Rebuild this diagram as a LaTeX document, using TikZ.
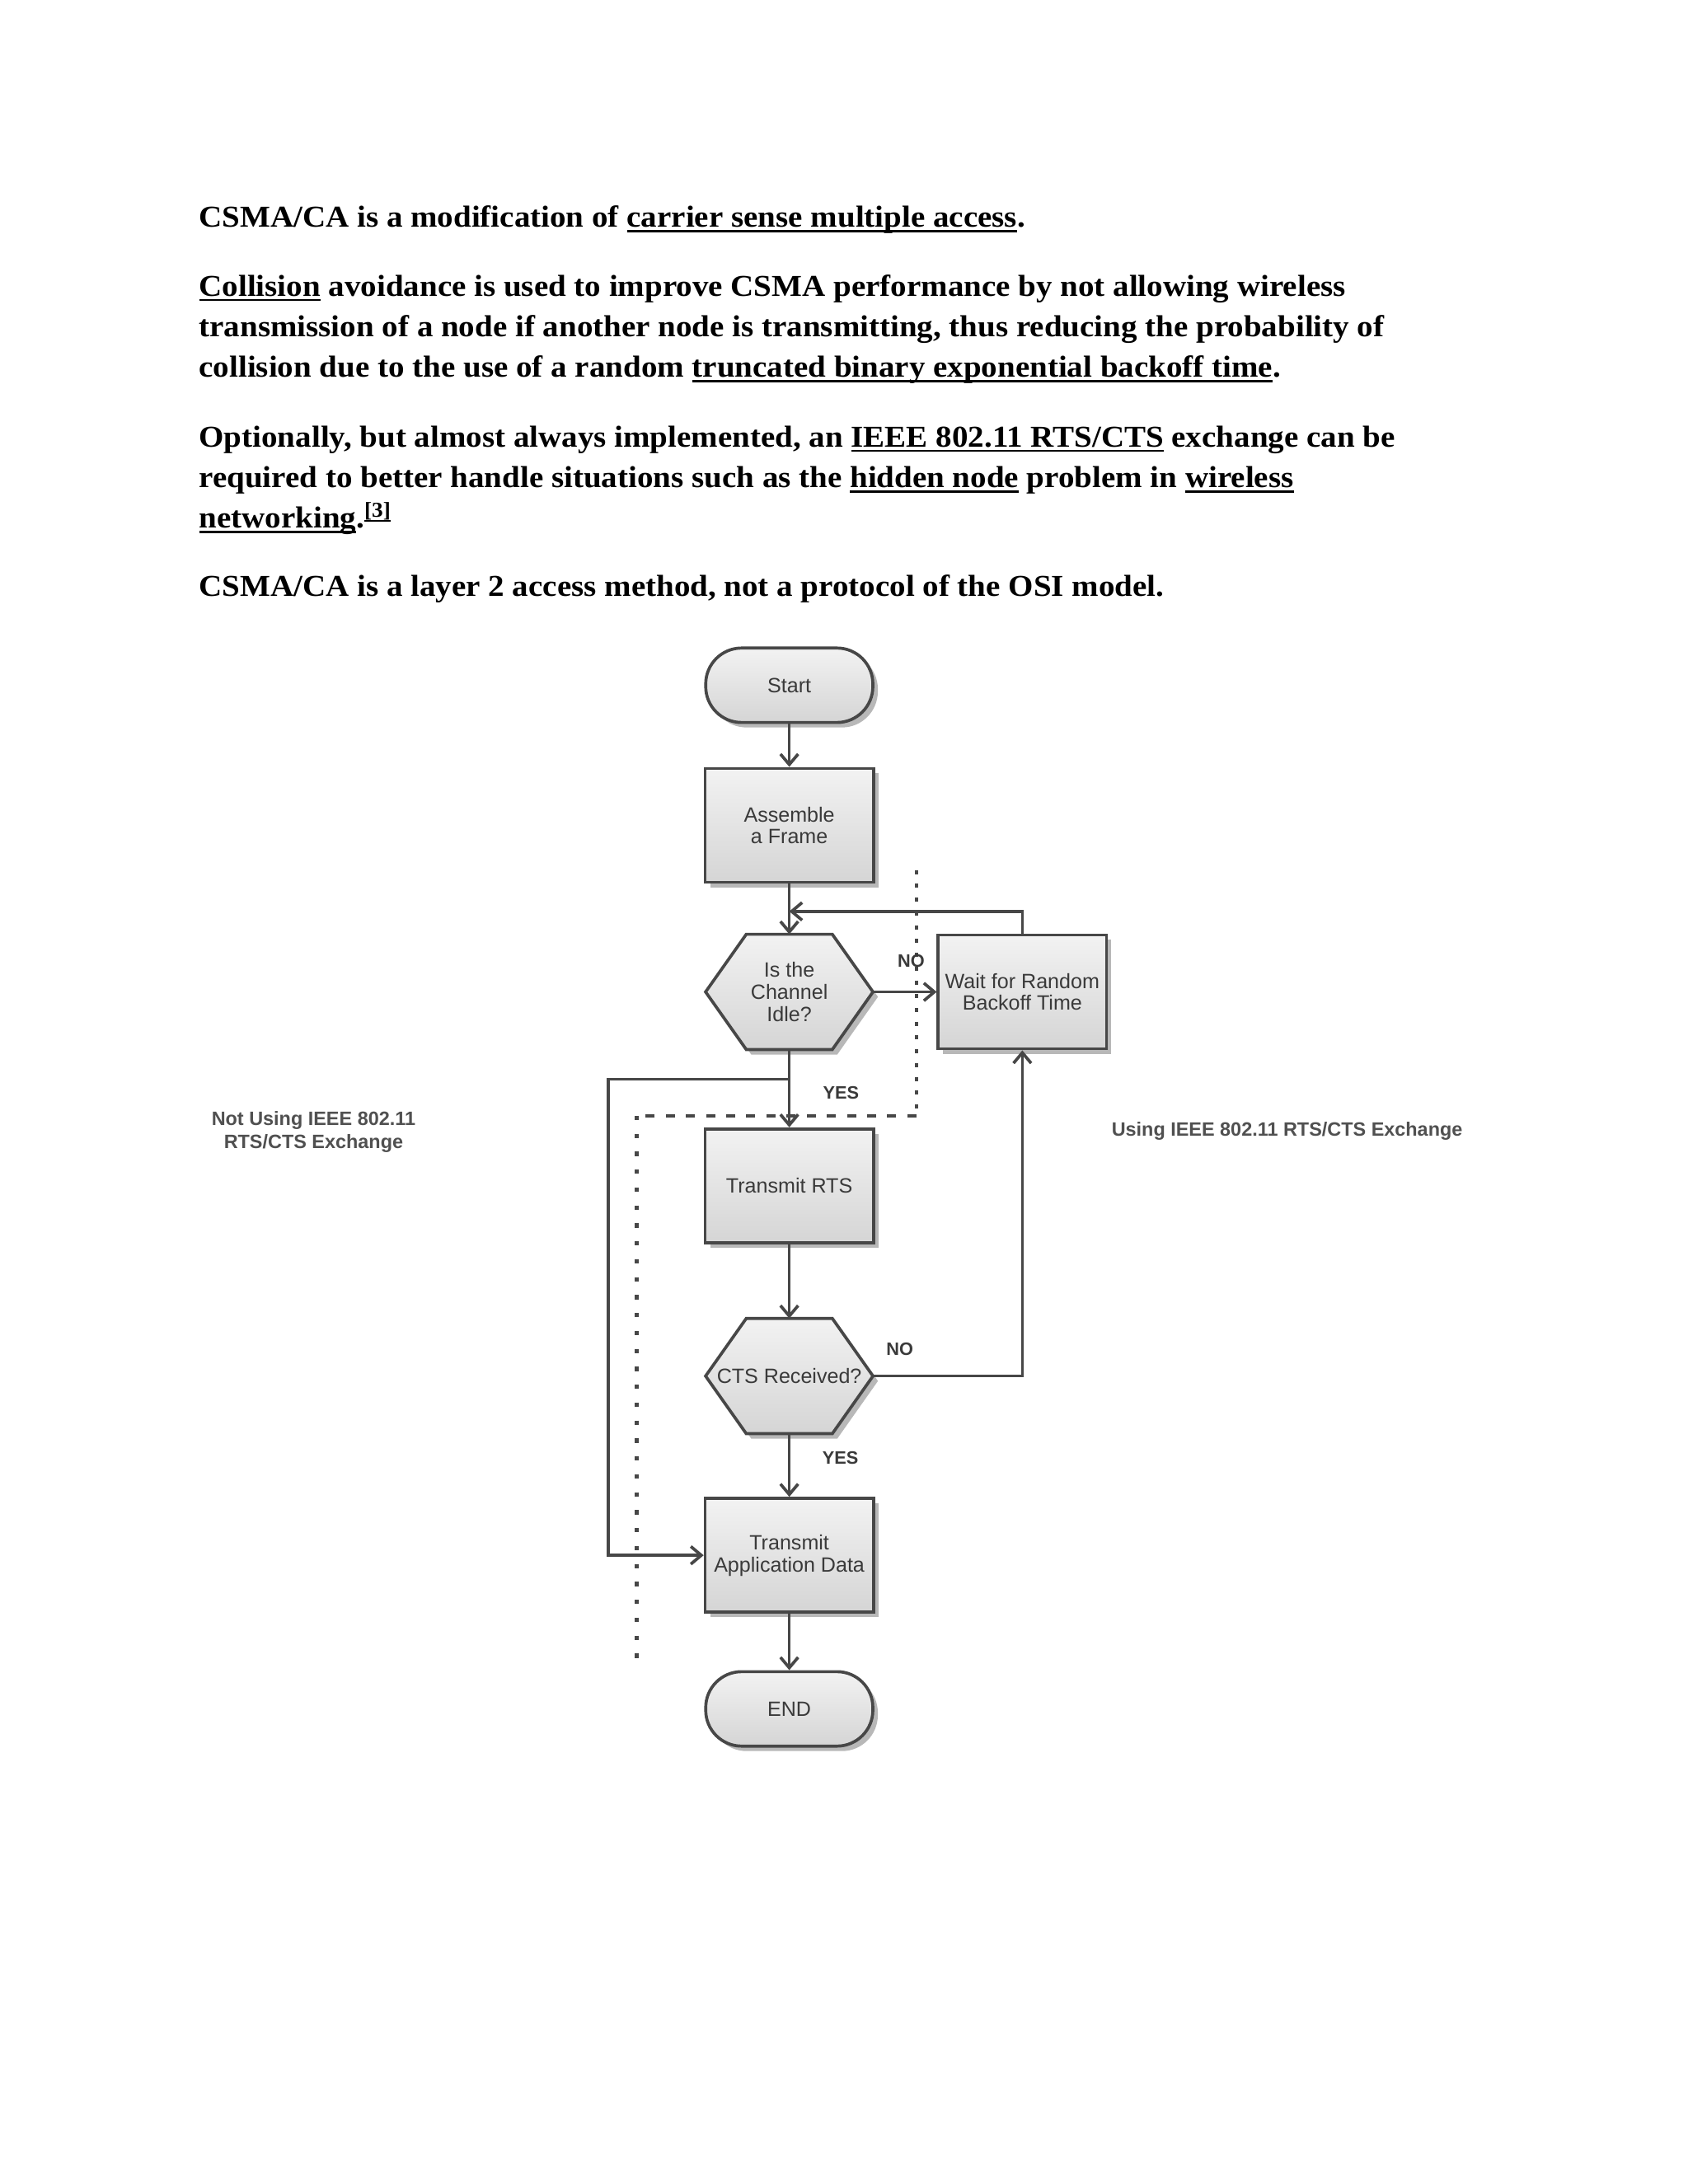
\documentclass[tikz,border=0pt]{standalone}
\usepackage{fontspec}
\setmainfont{Liberation Serif}[FakeStretch=1.06]
\newfontfamily\chartfont{Liberation Sans}
\usetikzlibrary{arrows.meta}
\usetikzlibrary{positioning}
\usetikzlibrary{shadows}
\definecolor{edge}{HTML}{474747}
\definecolor{ink}{HTML}{3A3A3A}
\definecolor{side}{HTML}{505050}
\newsavebox\linkbox
\newcommand{\wlink}[1]{\sbox\linkbox{#1}\rlap{\rule[-1.9pt]{\wd\linkbox}{0.8pt}}\usebox\linkbox}
\pgfdeclarelayer{background}
\pgfsetlayers{background,main}
\tikzstyle{every node}+=[inner sep=0pt]
\tikzstyle{para} = [anchor=base west, align=left, font=\fontsize{11pt}{14.7pt}\selectfont\bfseries]
\tikzstyle{boxfill} = [draw=edge, line width=1.1pt, top color=gray!10, bottom color=gray!33, drop shadow={shadow xshift=1.8pt, shadow yshift=-1.8pt, fill=black, opacity=0.28}]
\tikzstyle{chart} = [font=\chartfont\fontsize{7.5pt}{8pt}\selectfont, text=ink, align=center]
\tikzstyle{term} = [chart, boxfill, rectangle, rounded corners=13pt, minimum width=60.6pt, minimum height=27pt]
\tikzstyle{block} = [chart, boxfill, rectangle, minimum width=61pt, minimum height=41.3pt]
\tikzstyle{decision} = [chart, rectangle, minimum width=60.3pt, minimum height=41.4pt]
\tikzstyle{hexshape} = [boxfill]
\tikzstyle{line} = [draw=edge, line width=1.1pt, -{Straight Barb[length=3.8pt, width=6.4pt]}]
\tikzstyle{flag} = [font=\chartfont\bfseries\fontsize{6.5pt}{7pt}\selectfont, text=ink]
\tikzstyle{sidenote} = [font=\chartfont\bfseries\fontsize{7pt}{8.4pt}\selectfont, text=side, align=center]
\tikzstyle{fence dots} = [draw=edge, line width=1.3pt, dash pattern=on 1.5pt off 3.5pt]
\tikzstyle{fence dash} = [draw=edge, line width=1.3pt, dash pattern=on 3.3pt off 4pt]
\tikzstyle{fence dense} = [draw=edge, line width=1.6pt, dash pattern=on 1.6pt off 4.9pt]

\begin{document}
\begin{tikzpicture}[node distance = 2cm, auto]
          \useasboundingbox (0,0) rectangle (612pt,-792pt);
          % Text above the chart (anchored at the last line)
          \node [para] (p1) at (72pt,-82.4pt) {CSMA/CA is a modification of \wlink{carrier sense multiple access}.};
          \node [para] (p2) at (72pt,-136.7pt) {\wlink{Collision} avoidance is used to improve CSMA performance by not allowing wireless\\transmission of a node if another node is transmitting, thus reducing the probability of\\collision due to the use of a random \wlink{truncated binary exponential backoff time}.};
          \node [para] (p3) at (72pt,-191.4pt) {Optionally, but almost always implemented, an \wlink{IEEE 802.11 RTS/CTS} exchange can be\\required to better handle situations such as the \wlink{hidden node} problem in \wlink{wireless}\\\wlink{networking}.\textsuperscript{\wlink{[3]}}};
          \node [para] (p4) at (72pt,-216.2pt) {CSMA/CA is a layer 2 access method, not a protocol of the OSI model.};
          % Place nodes
          \node [term] (start) at (286.2pt,-248.5pt) {Start};
          \node [block, below of=start, node distance=50.8pt] (assemble) {Assemble\\a Frame};
          \node [decision, below of=assemble, node distance=60.4pt] (idle) {Is the\\Channel\\Idle?};
          \node [block, right of=idle, node distance=84.5pt] (wait) {Wait for Random\\Backoff Time};
          \node [block, below of=idle, node distance=70.3pt] (rts) {Transmit RTS};
          \node [decision, below of=rts, node distance=69pt] (cts) {CTS Received?};
          \node [block, below of=cts, node distance=65pt] (data) {Transmit\\Application Data};
          \node [term, below of=data, node distance=55.7pt] (end) {END};
          \node [sidenote] (notusing) at (113.7pt,-410.6pt) {Not Using IEEE 802.11\\RTS/CTS Exchange};
          \node [sidenote, anchor=west] (using) at (402.9pt,-410.3pt) {Using IEEE 802.11 RTS/CTS Exchange};
          % Page and hexagons behind the decision texts
          \begin{pgfonlayer}{background}
          \fill [white] (0,0) rectangle (612pt,-792pt);
          \foreach \n in {idle,cts}
            \path [hexshape] (\n.west) -- ([xshift=14.75pt]\n.north west) -- ([xshift=-14.75pt]\n.north east)
              -- (\n.east) -- ([xshift=-14.75pt]\n.south east) -- ([xshift=14.75pt]\n.south west) -- cycle;
          \end{pgfonlayer}
          % Region borders
          \draw [fence dots] (332.3pt,-315.5pt) -- (332.3pt,-404.6pt);
          \draw [fence dash] (332.3pt,-404.6pt) -- (230.8pt,-404.6pt);
          \draw [fence dense] (230.8pt,-404.6pt) -- (230.8pt,-601.8pt);
          % Draw edges
          \coordinate (merge) at ([yshift=-10pt]assemble.south);
          \coordinate (bypass) at ([yshift=-10.8pt]idle.south);
          \path [line] (start) -- (assemble);
          \path [line] (assemble) -- (idle);
          \path [line] (wait.north) |- (merge);
          \path [line] (idle.east) -- node [flag, above=8.5pt, pos=0.6] (no1) {NO} (wait.west);
          \path [line] (idle.south) -- node [flag, right=11.7pt, pos=0.555] (yes1) {YES} (rts.north);
          \path [line] (bypass) -- ++(-65.6pt,0) |- (data.west);
          \path [line] (rts) -- (cts);
          \path [line] (cts.east) -| node [flag, above=7pt, pos=0.09] (no2) {NO} (wait.south);
          \path [line] (cts.south) -- node [flag, right=11.5pt, pos=0.38] (yes2) {YES} (data.north);
          \path [line] (data) -- (end);
        \end{tikzpicture}
\end{document}
